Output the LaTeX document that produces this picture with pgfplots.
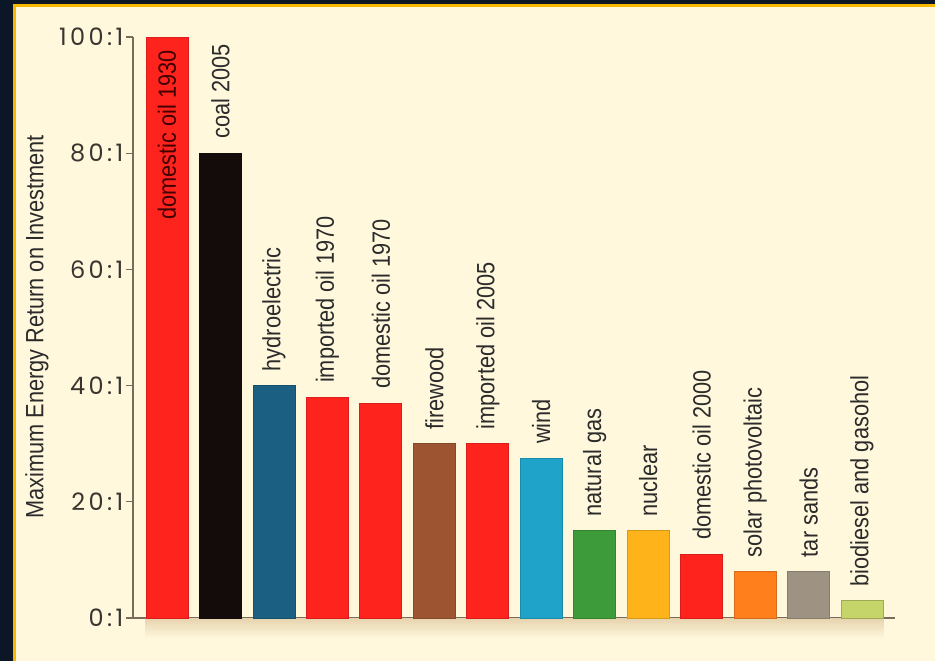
\documentclass[border=0pt]{standalone}
\usepackage{pgfplots}
\pgfplotsset{compat=1.18}
\usepackage{fontspec}
\setmainfont{Liberation Sans}[FakeStretch=0.87]
\newfontfamily\tickfont{Poppins}[LetterSpace=14]
\definecolor{navy}{HTML}{0B1726}
\definecolor{goldline}{HTML}{F6B900}
\definecolor{cream}{HTML}{FFF8DC}
\definecolor{axiscol}{HTML}{7B6B5B}
\definecolor{tickcol}{HTML}{3A3530}
\definecolor{labcol}{HTML}{2B2B2B}
\definecolor{shadowcol}{HTML}{E6D3AE}
\definecolor{cRed}{HTML}{FF231E}
\definecolor{cBlack}{HTML}{140C0A}
\definecolor{cHydro}{HTML}{1B5F82}
\definecolor{cBrown}{HTML}{9C5530}
\definecolor{cWind}{HTML}{1FA3C9}
\definecolor{cGreen}{HTML}{3D9B3A}
\definecolor{cNuc}{HTML}{FFB31A}
\definecolor{cSolar}{HTML}{FF7F1C}
\definecolor{cTar}{HTML}{9E9282}
\definecolor{cBio}{HTML}{C5D56A}
\begin{document}
\begin{tikzpicture}
\useasboundingbox (0,0) rectangle (467.5pt,330.5pt);
\fill[navy] (0,0) rectangle (467.5pt,330.5pt);
\fill[goldline] (6.5pt,0) rectangle (467.5pt,328.5pt);
\fill[cream] (8pt,0) rectangle (467.5pt,327pt);
\node[rotate=90, text=labcol, font=\fontsize{12.5}{14}\selectfont] at (18.5pt,167pt) {Maximum Energy Return on Investment};
\begin{axis}[
  at={(66.5pt,21.5pt)}, anchor=south west, scale only axis,
  width=381pt, height=290.5pt,
  xmin=-0.636, xmax=13.617, ymin=0, ymax=100,
  axis lines*=left,
  axis line style={color=axiscol, line width=0.7pt},
  xtick=\empty,
  ytick={0,20,40,60,80,100},
  yticklabels={0:1,20:1,40:1,60:1,80:1,100:1},
  tick align=outside, major tick length=3.5pt,
  tick style={color=axiscol, line width=0.6pt},
  yticklabel style={font=\tickfont\fontsize{12}{13}\selectfont, text=tickcol, inner xsep=1.2pt},
  ybar, bar width=21pt, bar shift=0pt,
  clip=false,
]
\shade[top color=shadowcol, bottom color=cream] (axis cs:-0.4,0) rectangle (axis cs:13.4,-3.5);
\addplot[fill=cRed, draw=cRed!85!black, line width=0.4pt] coordinates {(0,100)};
\addplot[fill=cBlack, draw=cBlack, line width=0.4pt] coordinates {(1,80)};
\addplot[fill=cHydro, draw=cHydro!85!black, line width=0.4pt] coordinates {(2,40)};
\addplot[fill=cRed, draw=cRed!85!black, line width=0.4pt] coordinates {(3,38)};
\addplot[fill=cRed, draw=cRed!85!black, line width=0.4pt] coordinates {(4,37)};
\addplot[fill=cBrown, draw=cBrown!85!black, line width=0.4pt] coordinates {(5,30)};
\addplot[fill=cRed, draw=cRed!85!black, line width=0.4pt] coordinates {(6,30)};
\addplot[fill=cWind, draw=cWind!85!black, line width=0.4pt] coordinates {(7,27.5)};
\addplot[fill=cGreen, draw=cGreen!85!black, line width=0.4pt] coordinates {(8,15)};
\addplot[fill=cNuc, draw=cNuc!85!black, line width=0.4pt] coordinates {(9,15)};
\addplot[fill=cRed, draw=cRed!85!black, line width=0.4pt] coordinates {(10,11)};
\addplot[fill=cSolar, draw=cSolar!85!black, line width=0.4pt] coordinates {(11,8)};
\addplot[fill=cTar, draw=cTar!85!black, line width=0.4pt] coordinates {(12,8)};
\addplot[fill=cBio, draw=cBio!80!black, line width=0.4pt] coordinates {(13,3)};
\begin{scope}[every node/.style={rotate=90, inner sep=0pt, text=labcol, font=\fontsize{12.5}{14}\selectfont}]
\node[anchor=east, text=black!75!red] at ([yshift=-6.5pt]axis cs:0,100) {domestic oil 1930};
\node[anchor=west] at ([yshift=7pt]axis cs:1,80) {coal 2005};
\node[anchor=west] at ([yshift=7pt]axis cs:2,40) {hydroelectric};
\node[anchor=west] at ([yshift=7pt]axis cs:3,38) {imported oil 1970};
\node[anchor=west] at ([yshift=7pt]axis cs:4,37) {domestic oil 1970};
\node[anchor=west] at ([yshift=7pt]axis cs:5,30) {firewood};
\node[anchor=west] at ([yshift=7pt]axis cs:6,30) {imported oil 2005};
\node[anchor=west] at ([yshift=7pt]axis cs:7,27.5) {wind};
\node[anchor=west] at ([yshift=7pt]axis cs:8,15) {natural gas};
\node[anchor=west] at ([yshift=7pt]axis cs:9,15) {nuclear};
\node[anchor=west] at ([yshift=7pt]axis cs:10,11) {domestic oil 2000};
\node[anchor=west] at ([yshift=7pt]axis cs:11,8) {solar photovoltaic};
\node[anchor=west] at ([yshift=7pt]axis cs:12,8) {tar sands};
\node[anchor=west] at ([yshift=7pt]axis cs:13,3) {biodiesel and gasohol};
\end{scope}
\end{axis}
\end{tikzpicture}
\end{document}
